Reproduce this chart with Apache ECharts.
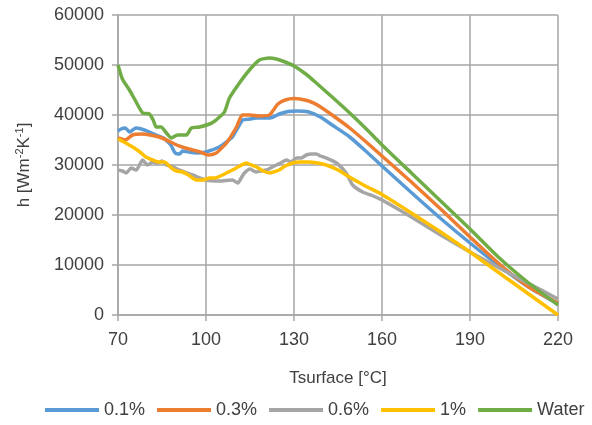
<!DOCTYPE html>
<html>
<head>
<meta charset="utf-8">
<script src="https://cdn.jsdelivr.net/npm/echarts@6/dist/echarts.min.js"></script>
<style>
  html, body { margin: 0; padding: 0; background: #fff; }
  #chart { width: 592px; height: 425px; }
</style>
</head>
<body>
<div id="chart"></div>
<script>
  // [Tsurface, h]
  const seriesNames = ['0.1%', '0.3%', '0.6%', '1%', 'Water']
  const colors = ['#5B9BD5', '#ED7D31', '#A5A5A5', '#FFC000', '#70AD47']

  const h01 = [[70, 36800], [71, 37200], [72.5, 37400], [74, 36600], [76, 37400], [78, 37200], [80.7, 36600],
    [83, 36000], [85.5, 35400], [88, 34000], [89.5, 32400], [91, 32200], [92, 32800], [94, 32600], [97, 32400],
    [100, 32600], [104.5, 33600], [107, 34600], [109, 35600], [111, 37600], [112.5, 39000], [115, 39200],
    [117, 39400], [120, 39400], [122.5, 39500], [125, 40200], [128, 40700], [131, 40800], [135, 40600],
    [139, 39600], [143, 38000], [149, 35600], [155, 32500], [160, 29800], [170, 24500], [180, 19300],
    [190, 14400], [200, 9800], [210, 5600], [220, 2200]]

  const h03 = [[70, 35400], [72.5, 35000], [75, 36000], [78, 36200], [81, 36000], [85, 35400], [90, 34000],
    [93, 33400], [98, 32600], [101, 32000], [103.5, 32400], [105, 33200], [107, 34400], [110.4, 37600],
    [112.4, 40000], [115, 40000], [118, 39800], [121.6, 40000], [123, 41000], [124.5, 42200], [127, 43000],
    [130, 43300], [132, 43200], [135, 42800], [138, 42000], [143, 40000], [149, 37400], [155, 34400],
    [160, 31800], [170, 26600], [180, 21200], [190, 15600], [200, 10200], [210, 5600], [220, 2400]]

  const h06 = [[70, 29000], [71.5, 28800], [72.8, 28400], [74.5, 29400], [76.2, 29000], [77.5, 30200],
    [78.4, 31000], [80, 30000], [81.9, 30600], [83.6, 30400], [85, 30800], [86.5, 30000], [88, 29800],
    [91, 29000], [95.5, 28000], [100, 27000], [104.6, 26800], [109, 27000], [110.8, 26400], [112, 27400],
    [113.1, 28400], [115, 29200], [117, 28600], [118.5, 28800], [120.6, 29000], [122, 29400], [124, 30000],
    [125.5, 30400], [127.4, 31000], [129, 30600], [130.8, 31400], [132.5, 31400], [134.2, 32000],
    [136, 32200], [137.6, 32200], [139, 31800], [141, 31400], [144.5, 30400], [147.8, 28400], [150, 26000],
    [153.4, 24600], [157, 23800], [160, 23000], [170, 19600], [180, 16000], [190, 12600], [200, 9400],
    [210, 6300], [220, 3200]]

  const h1 = [[70, 35200], [72, 34600], [75, 33600], [77.5, 32600], [79.5, 31600], [81.9, 31000], [84, 30600],
    [85.8, 30600], [88.2, 29400], [90, 28800], [92, 28600], [94, 28000], [96.7, 27000], [99, 27000],
    [101.2, 27400], [103, 27400], [105.6, 28000], [109, 29000], [111.5, 29800], [113.7, 30400], [115.5, 30000],
    [117.2, 29600], [119.5, 28800], [121.6, 28400], [123, 28600], [125, 29000], [127, 29800], [129.5, 30400],
    [132, 30600], [135, 30600], [138, 30400], [141, 30000], [145, 29000], [148.9, 27600], [154, 25900],
    [160, 24100], [170, 20400], [180, 16600], [190, 12600], [200, 8400], [210, 4200], [220, 0]]

  const hWater = [[70, 50000], [71.5, 47200], [73.9, 45000], [76, 42800], [78.4, 40400], [80.7, 40200],
    [82, 39000], [83, 37600], [84.7, 37600], [86.5, 36400], [88.2, 35400], [90.3, 36000], [93.3, 36000],
    [95, 37400], [97.8, 37600], [101.2, 38200], [103, 38800], [104.6, 39600], [106.3, 40600], [108, 43400],
    [111.4, 46400], [114.8, 49000], [118.2, 51000], [121.6, 51400], [124, 51200], [127, 50600], [130, 49800],
    [134, 48200], [137.6, 46400], [143, 43600], [149, 40400], [155, 37000], [160, 34000], [170, 28400],
    [180, 22800], [190, 17200], [200, 11400], [210, 6400], [220, 2000]]

  const allData = [h01, h03, h06, h1, hWater]

  const font = 'Liberation Sans'
  const gridColor = '#A6A6A6'
  const textColor = '#404040'

  const chartInstance = echarts.init(document.getElementById('chart'))
  const option = {
    animation: false,
    backgroundColor: '#fff',
    color: colors,
    grid: {
      left: 118,
      right: 34,
      top: 15,
      bottom: 110
    },
    legend: {
      bottom: 1,
      left: 40,
      icon: 'rect',
      itemWidth: 54,
      itemHeight: 4,
      itemGap: 12,
      textStyle: { fontFamily: font, fontSize: 18, color: textColor },
      data: seriesNames
    },
    xAxis: {
      type: 'value',
      min: 70,
      max: 220,
      interval: 30,
      name: 'Tsurface [°C]',
      nameLocation: 'middle',
      nameGap: 55,
      nameTextStyle: { fontFamily: font, fontSize: 17, color: textColor },
      axisLine: { lineStyle: { color: gridColor, width: 1.5 } },
      axisTick: { show: true, length: 6, lineStyle: { color: gridColor, width: 1.5 } },
      axisLabel: { fontFamily: font, fontSize: 18, color: textColor, margin: 16 },
      splitLine: { show: true, lineStyle: { color: gridColor, width: 1.5 } }
    },
    yAxis: {
      type: 'value',
      min: 0,
      max: 60000,
      interval: 10000,
      name: '{a|h [Wm}{s|-2}{a|K}{s|-1}{a|]}',
      nameLocation: 'middle',
      nameGap: 84,
      nameTextStyle: {
        color: textColor,
        rich: {
          a: { fontFamily: font, fontSize: 17, color: textColor },
          s: { fontFamily: font, fontSize: 11, color: textColor, padding: [0, 0, 9, 0] }
        }
      },
      axisLine: { show: true, lineStyle: { color: gridColor, width: 1.5 } },
      axisTick: { show: true, length: 6, lineStyle: { color: gridColor, width: 1.5 } },
      axisLabel: {
        fontFamily: font,
        fontSize: 18,
        color: textColor,
        margin: 14,
        formatter: value => String(value)
      },
      splitLine: { show: true, lineStyle: { color: gridColor, width: 1.5 } }
    },
    series: seriesNames.map((name, i) => ({
      name: name,
      type: 'line',
      data: allData[i],
      symbol: 'none',
      smooth: 0.2,
      lineStyle: { width: 3.5, color: colors[i] },
      itemStyle: { color: colors[i] }
    }))
  }
  chartInstance.setOption(option)
</script>
</body>
</html>
